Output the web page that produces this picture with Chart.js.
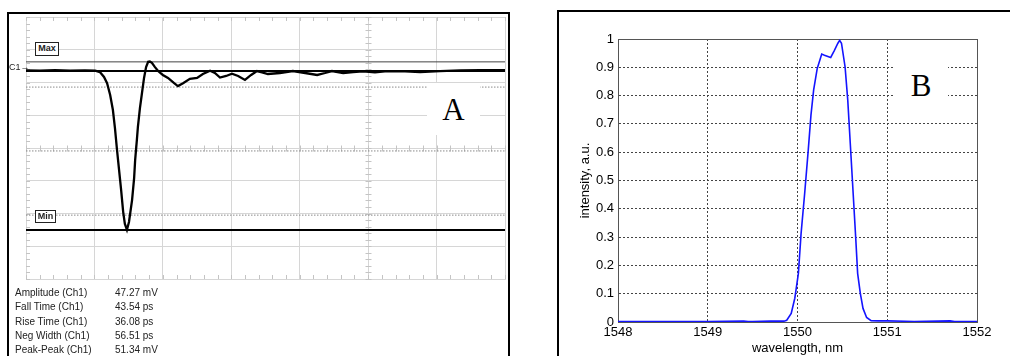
<!DOCTYPE html>
<html>
<head>
<meta charset="utf-8">
<script src="https://cdn.jsdelivr.net/npm/chart.js@4.4.1/dist/chart.umd.min.js"></script>
<style>
html,body{margin:0;padding:0;background:#fff;}
body{width:1010px;height:356px;position:relative;overflow:hidden;font-family:"Liberation Sans",Arial,sans-serif;}
.frame{position:absolute;box-sizing:border-box;border:2px solid #000;border-bottom:none;}
#frameA{left:7px;top:12px;width:503px;height:360px;}
#frameB{left:557px;top:10px;width:480px;height:360px;border-right:none;}
#cA{position:absolute;left:0;top:0;}
#cB{position:absolute;left:520px;top:0;}
.big{position:absolute;background:#fff;font-family:"Liberation Serif","Times New Roman",serif;font-size:31px;color:#000;line-height:1;display:flex;align-items:center;justify-content:center;}
.tag{position:absolute;box-sizing:border-box;border:1.5px solid #222;background:#fff;font-size:9px;font-weight:bold;color:#222;line-height:11px;text-align:center;}
#meas{position:absolute;left:15px;top:286px;font-size:10px;color:#222;line-height:14.3px;}
#meas div{position:relative;height:14.3px;white-space:nowrap;}
#meas span{position:absolute;left:100px;}
#c1{position:absolute;left:9px;top:62px;font-size:9px;color:#222;}
</style>
</head>
<body>
<div class="frame" id="frameA"></div>
<div class="frame" id="frameB"></div>
<canvas id="cA" width="520" height="300"></canvas>
<canvas id="cB" width="490" height="356"></canvas>

<div class="tag" style="left:35px;top:42px;width:24px;height:14px;">Max</div>
<div class="tag" style="left:35px;top:210px;width:21px;height:13px;">Min</div>
<div id="c1">C1→</div>
<div class="big" style="left:427px;top:83px;width:53px;height:52px;">A</div>
<div class="big" style="left:894px;top:56px;width:54px;height:58px;">B</div>

<div id="meas">
  <div>Amplitude (Ch1)<span>47.27 mV</span></div>
  <div>Fall Time (Ch1)<span>43.54 ps</span></div>
  <div>Rise Time (Ch1)<span>36.08 ps</span></div>
  <div>Neg Width (Ch1)<span>56.51 ps</span></div>
  <div>Peak-Peak (Ch1)<span>51.34 mV</span></div>
</div>

<script>
// ---------- Panel A: oscilloscope trace (time in ps, voltage in mV) ----------
const timePs = [0,41,85,129,172,202,216,228,237,246,254,260,266,272,278,284,289,295,301,310,316,319,324,327,333,339,345,351,357,362,368,377,386,400,415,433,444,459,479,500,517,538,552,567,585,602,620,640,658,675,690,707,742,780,816,851,874,894,927,956,985,1020,1049,1093,1152,1210,1269,1327,1400];
const voltMv = [23.7,23.6,23.8,23.6,23.7,23.6,23.2,21.7,19.8,16.2,11.6,6.1,-0.6,-6.7,-12.8,-19.5,-23.2,-25.0,-22.6,-15.9,-9.2,-3.7,2.4,6.4,12.2,16.8,21.4,24.7,26.3,26.4,26.0,24.7,23.5,22.3,21.4,19.8,18.9,19.8,21.1,21.4,22.6,23.6,22.9,21.5,22.0,22.7,22.0,20.8,22.3,23.5,23.1,22.6,22.9,23.5,22.9,22.3,22.9,23.5,22.9,23.2,23.4,23.1,23.4,23.5,23.2,23.5,23.7,23.8,23.8];
const timeRangePs = [0, 1400];
const voltRangeMv = [-40, 40];
const levelMaxMv = 26.3;
const levelTopMv = 23.5;
const levelMinMv = -25.0;
const levelMarksMv = [18.6, -0.9, -20.5];

// ---------- Panel B: spectrum ----------
const wavelengthNm = [1548,1548.5,1549,1549.4,1549.45,1549.5,1549.7,1549.85,1549.88,1549.93,1549.97,1550.01,1550.04,1550.08,1550.12,1550.15,1550.18,1550.22,1550.27,1550.3,1550.37,1550.41,1550.45,1550.47,1550.49,1550.53,1550.56,1550.59,1550.62,1550.65,1550.67,1550.7,1550.73,1550.77,1550.82,1550.9,1551,1551.3,1551.7,1551.75,1552];
const intensity = [0.002,0.002,0.002,0.003,0.002,0.002,0.003,0.003,0.006,0.03,0.084,0.172,0.313,0.455,0.608,0.731,0.82,0.896,0.947,0.943,0.935,0.959,0.985,0.995,0.985,0.902,0.784,0.62,0.455,0.29,0.172,0.101,0.048,0.016,0.005,0.004,0.004,0.002,0.004,0.002,0.002];
const xTickLabelsB = ['1548','1549','1550','1551','1552'];
const yTickLabelsB = ['0','0.1','0.2','0.3','0.4','0.5','0.6','0.7','0.8','0.9','1'];
const yRangeB = [0, 1];

Chart.defaults.font.family = '"Liberation Sans", Arial, sans-serif';

function hline(v, color, width, dash) {
  return {
    data: [{x: timeRangePs[0], y: v}, {x: timeRangePs[1], y: v}],
    borderColor: color, borderWidth: width, borderDash: dash || [],
    pointRadius: 0, tension: 0
  };
}

const scopeTicks = {
  id: 'scopeTicks',
  beforeDatasetsDraw(chart) {
    const {ctx, chartArea: a, scales: {x, y}} = chart;
    ctx.save();
    ctx.strokeStyle = '#c4c4c4';
    ctx.lineWidth = 1;
    ctx.beginPath();
    const cy = Math.round(y.getPixelForValue(0)) + 0.5;
    const cx = Math.round(x.getPixelForValue(1000)) + 0.5;
    for (let t = timeRangePs[0]; t <= timeRangePs[1]; t += 40) {
      const px = Math.round(x.getPixelForValue(t)) + 0.5;
      ctx.moveTo(px, a.top); ctx.lineTo(px, a.top + 4);
      ctx.moveTo(px, a.bottom); ctx.lineTo(px, a.bottom - 4);
      ctx.moveTo(px, cy - 3); ctx.lineTo(px, cy + 3);
    }
    for (let v = voltRangeMv[0]; v <= voltRangeMv[1]; v += 2) {
      const py = Math.round(y.getPixelForValue(v)) + 0.5;
      ctx.moveTo(a.left, py); ctx.lineTo(a.left + 4, py);
      ctx.moveTo(cx - 3, py); ctx.lineTo(cx + 3, py);
    }
    ctx.stroke();
    ctx.restore();
  }
};

new Chart(document.getElementById('cA'), {
  type: 'line',
  data: {
    datasets: [
      {data: timePs.map((t, i) => ({x: t, y: voltMv[i]})), borderColor: '#000', borderWidth: 2.3, pointRadius: 0, tension: 0},
      hline(levelTopMv, '#000', 2),
      hline(levelMaxMv, '#444', 1),
      hline(levelMinMv, '#000', 2),
      ...levelMarksMv.map(v => hline(v, '#8a8a8a', 1, [1.5, 1.5]))
    ]
  },
  options: {
    responsive: false, animation: false,
    layout: {padding: {left: 26, top: 17, right: 15, bottom: 21}},
    plugins: {legend: {display: false}, tooltip: {enabled: false}},
    scales: {
      x: {type: 'linear', min: timeRangePs[0], max: timeRangePs[1],
          ticks: {display: false, stepSize: 200},
          grid: {color: '#d6d6d6', lineWidth: 1, drawTicks: false},
          border: {color: '#d6d6d6'}},
      y: {type: 'linear', min: voltRangeMv[0], max: voltRangeMv[1],
          ticks: {display: false, stepSize: 10},
          grid: {color: '#d6d6d6', lineWidth: 1, drawTicks: false},
          border: {color: '#d6d6d6'}}
    }
  },
  plugins: [scopeTicks]
});

const boxB = {
  id: 'boxB',
  beforeDatasetsDraw(chart) {
    const {ctx, chartArea: a} = chart;
    ctx.save();
    ctx.strokeStyle = '#555';
    ctx.lineWidth = 1;
    ctx.strokeRect(Math.round(a.left) + 0.5, Math.round(a.top) + 0.5, Math.round(a.right - a.left), Math.round(a.bottom - a.top));
    ctx.restore();
  }
};

new Chart(document.getElementById('cB'), {
  type: 'line',
  data: {
    datasets: [{
      data: wavelengthNm.map((w, i) => ({x: w, y: intensity[i]})),
      borderColor: '#1414ff', borderWidth: 1.6, pointRadius: 0, tension: 0
    }]
  },
  options: {
    responsive: false, animation: false,
    layout: {padding: {left: 0, top: 39, right: 33, bottom: 0}},
    plugins: {legend: {display: false}, tooltip: {enabled: false}},
    scales: {
      x: {type: 'linear', min: Number(xTickLabelsB[0]), max: Number(xTickLabelsB[xTickLabelsB.length - 1]),
          afterFit: s => { s.height = 34; },
          ticks: {stepSize: 1, color: '#000', font: {size: 13}, padding: 3,
                  callback: (v, i) => xTickLabelsB[i] !== undefined ? xTickLabelsB[i] : ''},
          grid: {color: '#444', lineWidth: 1, drawTicks: false},
          border: {display: true, color: '#555', dash: [2, 2]},
          title: {display: true, text: 'wavelength, nm', color: '#000', font: {size: 13}, padding: {top: 0, bottom: 0}}},
      y: {type: 'linear', min: yRangeB[0], max: yRangeB[1],
          afterFit: s => { s.width = 98; },
          ticks: {stepSize: 0.1, color: '#000', font: {size: 13}, padding: 4,
                  callback: (v, i) => yTickLabelsB[i] !== undefined ? yTickLabelsB[i] : ''},
          grid: {color: '#444', lineWidth: 1, drawTicks: false},
          border: {display: true, color: '#555', dash: [2, 2]},
          title: {display: true, text: 'intensity, a.u.', color: '#000', font: {size: 13}, padding: {top: 58, bottom: 0}}}
    }
  },
  plugins: [boxB]
});
</script>
</body>
</html>
